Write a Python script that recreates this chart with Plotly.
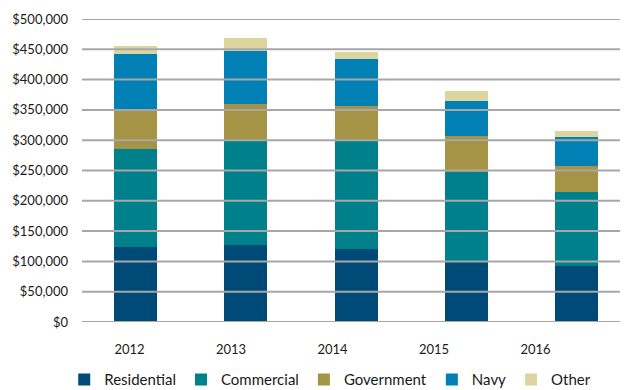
import plotly.graph_objects as go

years = ["2012", "2013", "2014", "2015", "2016"]
residential = [124000, 127000, 120000, 99000, 92000]
commercial = [161000, 173000, 178000, 149000, 122000]
government = [66000, 59000, 58000, 59000, 43000]
navy = [91000, 89000, 78000, 57000, 48000]
other = [13000, 20000, 11000, 17000, 10000]
y_ticks = [0, 50000, 100000, 150000, 200000, 250000, 300000, 350000, 400000, 450000, 500000]
y_tick_text = ["$" + format(v, ",") for v in y_ticks]

series = [
    ("Residential", residential, "#004a77"),
    ("Commercial", commercial, "#00808a"),
    ("Government", government, "#a69446"),
    ("Navy", navy, "#0080b4"),
    ("Other", other, "#dcd59d"),
]

FONT = "Lato"
TXT = "#1a1a1a"

fig = go.Figure()
for name, vals, col in series:
    fig.add_trace(go.Bar(x=years, y=vals, name=name, marker=dict(color=col, line=dict(width=0)),
                         width=0.39))

# invisible trace carrying the year labels axis
fig.add_trace(go.Scatter(x=years, y=[0] * len(years), xaxis="x2", mode="markers",
                         marker=dict(opacity=0), showlegend=False, hoverinfo="skip"))

for v in y_ticks:
    fig.add_shape(type="line", xref="paper", x0=0, x1=1, yref="y", y0=v, y1=v,
                  line=dict(color="#a7a7aa", width=2), layer="above")

fig.update_layout(
    barmode="stack",
    width=628, height=390,
    margin=dict(l=82, r=8, t=19, b=68, autoexpand=False),
    paper_bgcolor="white", plot_bgcolor="white",
    font=dict(family=FONT, color=TXT, size=13),
    xaxis=dict(type="category", range=[-0.485, 4.394], showticklabels=False, showgrid=False,
               zeroline=False, showline=False, ticks=""),
    xaxis2=dict(type="category", overlaying="x", anchor="y", side="bottom",
                range=[-0.468, 4.832], showgrid=False, zeroline=False, showline=False, ticks="",
                ticklabelstandoff=18, tickfont=dict(size=13, color=TXT)),
    yaxis=dict(range=[0, 500000], tickmode="array", tickvals=y_ticks, ticktext=y_tick_text,
               showgrid=False, zeroline=False, showline=False, ticks="",
               ticklabelstandoff=13, tickfont=dict(size=13, color=TXT)),
    legend=dict(orientation="h", xref="paper", yref="paper", x=-0.033, xanchor="left",
                y=-0.191, yanchor="middle", font=dict(size=15, color=TXT),
                itemwidth=30, traceorder="normal"),
    showlegend=True,
)

fig.write_html("out.html")
